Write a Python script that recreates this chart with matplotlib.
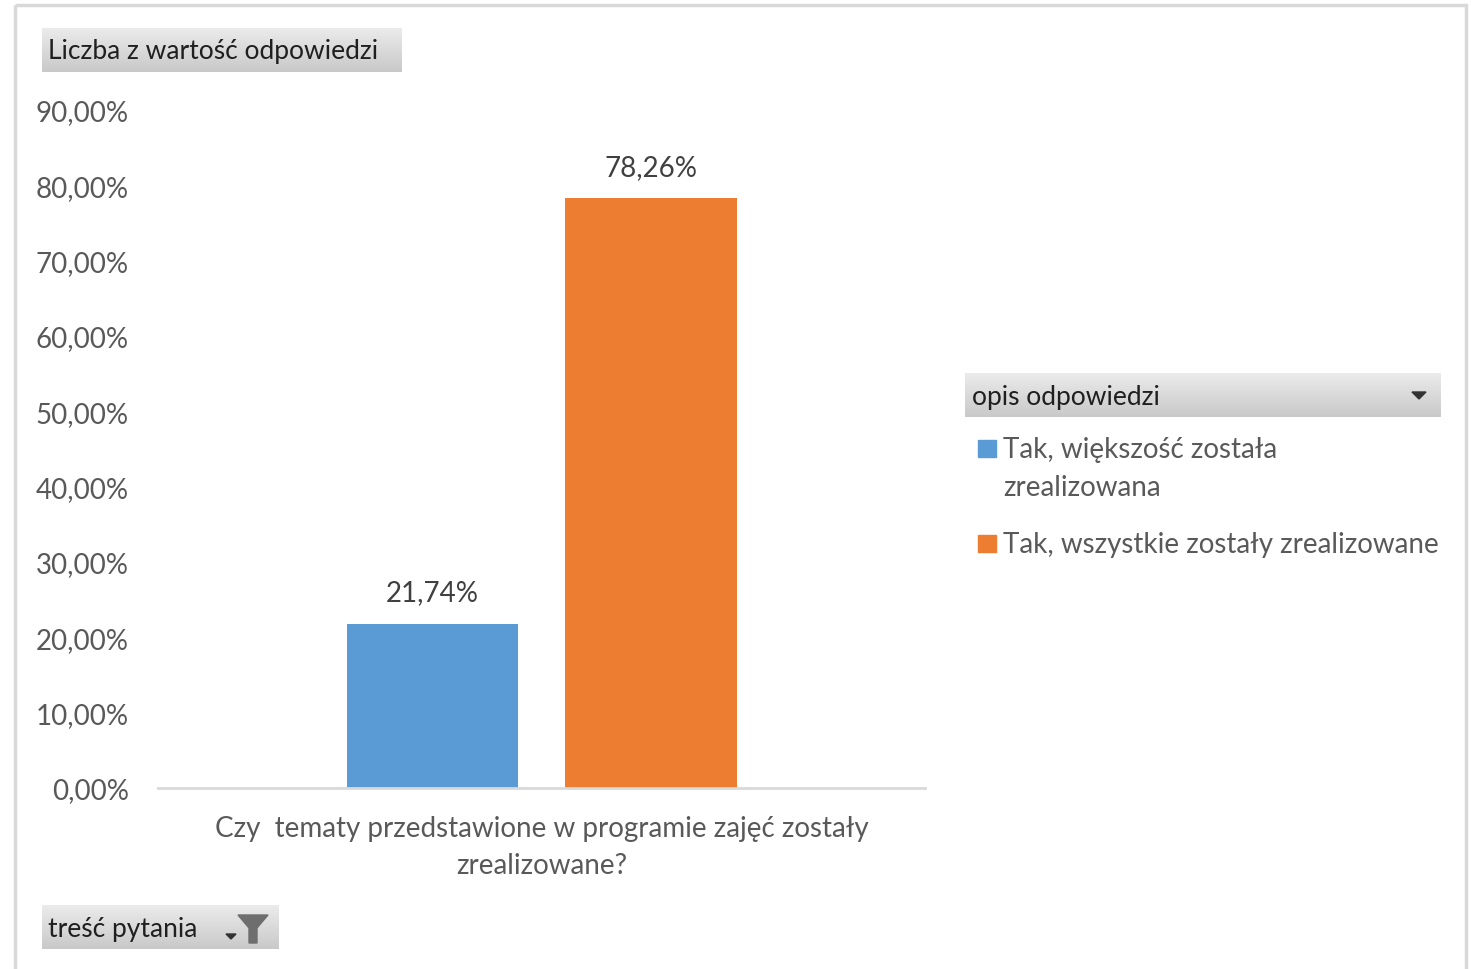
import numpy as np
import matplotlib
matplotlib.use("Agg")
from matplotlib import pyplot as plt
from matplotlib.patches import Rectangle, Polygon
from matplotlib.colors import LinearSegmentedColormap

plt.rcParams['font.family'] = ['Lato', 'DejaVu Sans']

# data
series = ["Tak, większość została\nzrealizowana", "Tak, wszystkie zostały zrealizowane"]
values = [21.74, 78.26]
colors = ["#5B9BD5", "#ED7D31"]
category = "Czy  tematy przedstawione w programie zajęć zostały\nzrealizowane?"
yticks = [0, 10, 20, 30, 40, 50, 60, 70, 80, 90]

W, H = 1471, 970
fig = plt.figure(figsize=(W / 100, H / 100), dpi=100)

# overlay in pixel coords for the pivot-chart decorations
deco = fig.add_axes([0, 0, 1, 1])
deco.axis("off")

# outer frame
deco.add_patch(Rectangle((15, 6), 1451, 980, fill=False, ec="#d9d9d9", lw=2.5))

btn_cmap = LinearSegmentedColormap.from_list("btn", ["#ebebeb", "#c9c9c9"])


def button(x0, y0, w, h):
    grad = np.linspace(0, 1, 64).reshape(-1, 1)
    deco.imshow(grad, extent=(x0, x0 + w, y0 + h, y0), cmap=btn_cmap, aspect="auto", zorder=1)


button(42, 29, 360, 44)
deco.text(48, 52, "Liczba z wartość odpowiedzi", fontsize=19, color="#1f1f1f", va="center", ha="left", zorder=3)

button(965, 374, 476, 44)
deco.text(972, 398, "opis odpowiedzi", fontsize=19, color="#1f1f1f", va="center", ha="left", zorder=3)
deco.add_patch(Polygon([(1412, 393), (1426, 393), (1419, 400)], closed=True, color="#333333", zorder=3))

button(42, 906, 237, 44)
deco.text(48, 930, "treść pytania", fontsize=19, color="#1f1f1f", va="center", ha="left", zorder=3)
deco.add_patch(Polygon([(226, 935), (236, 935), (231, 940)], closed=True, color="#333333", zorder=3))
deco.add_patch(Polygon([(238, 916), (268, 916), (257, 929), (257, 944), (249, 944), (249, 929)],
                       closed=True, color="#6e6e6e", zorder=3))

deco.set_xlim(0, W)
deco.set_ylim(H, 0)

# legend entries
leg_y = [449, 544]
for c, lab, y in zip(colors, series, leg_y):
    deco.add_patch(Rectangle((978, y - 8), 18, 17, color=c, zorder=3))
    deco.text(1003, y - 12, lab, fontsize=20, color="#595959", va="top", ha="left",
              linespacing=1.55, zorder=3)

# main axes
ax = fig.add_axes([158 / W, 1 - 789 / H, (925 - 158) / W, (789 - 111) / H])
ax.patch.set_alpha(0)
x = np.arange(len(values))
ax.bar(x, values, width=0.783, color=colors, zorder=2)
for xi, v in zip(x, values):
    ax.text(xi, v + 2.5, f"{v:.2f}%".replace(".", ","), ha="center", va="bottom",
            fontsize=20, color="#404040")

ax.set_xlim(-1.256, 2.254)
ax.set_ylim(0, 90)
ax.set_yticks(yticks)
ax.set_yticklabels([f"{t:.2f}%".replace(".", ",") for t in yticks], fontsize=20, color="#595959")
ax.set_xticks([])
for s in ["top", "right", "left"]:
    ax.spines[s].set_visible(False)
ax.spines["bottom"].set_color("#d9d9d9")
ax.spines["bottom"].set_linewidth(2)
ax.tick_params(axis="y", length=0, pad=21)
ax.text(0.5, -0.04, category, transform=ax.transAxes, ha="center", va="top",
        fontsize=20, color="#595959", linespacing=1.5)

fig.savefig("out.png", dpi=100)
